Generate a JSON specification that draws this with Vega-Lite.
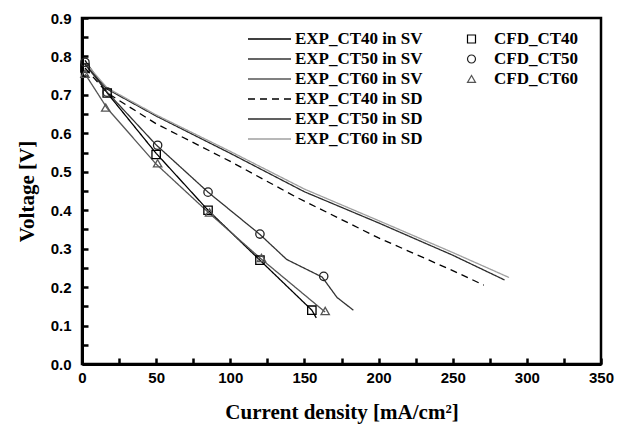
{
  "$schema": "https://vega.github.io/schema/vega-lite/v6.json",
  "width": 519,
  "height": 346,
  "autosize": "none",
  "padding": {"left": 82, "top": 18, "right": 21, "bottom": 68},
  "background": "white",
  "config": {
    "view": {"stroke": "black", "strokeWidth": 2.5},
    "axis": {
      "grid": false,
      "labelFont": "Liberation Sans", "labelFontWeight": "bold", "labelFontSize": 15, "labelColor": "black",
      "titleFont": "Liberation Serif", "titleFontWeight": "bold", "titleFontSize": 21, "titleColor": "black"
    },
    "legend": {
      "labelFont": "Liberation Serif", "labelFontWeight": "bold", "labelFontSize": 17, "labelColor": "black",
      "padding": 0
    }
  },
  "datasets": {
    "exp": [
      {"series": "EXP_CT40 in SV", "x": 2, "y": 0.79},
      {"series": "EXP_CT40 in SV", "x": 17, "y": 0.705},
      {"series": "EXP_CT40 in SV", "x": 50, "y": 0.548},
      {"series": "EXP_CT40 in SV", "x": 85, "y": 0.4},
      {"series": "EXP_CT40 in SV", "x": 120, "y": 0.27},
      {"series": "EXP_CT40 in SV", "x": 155, "y": 0.14},
      {"series": "EXP_CT40 in SV", "x": 158, "y": 0.12},
      {"series": "EXP_CT50 in SV", "x": 2, "y": 0.78},
      {"series": "EXP_CT50 in SV", "x": 17, "y": 0.707},
      {"series": "EXP_CT50 in SV", "x": 50, "y": 0.57},
      {"series": "EXP_CT50 in SV", "x": 85, "y": 0.447},
      {"series": "EXP_CT50 in SV", "x": 120, "y": 0.337},
      {"series": "EXP_CT50 in SV", "x": 138, "y": 0.272},
      {"series": "EXP_CT50 in SV", "x": 162, "y": 0.226},
      {"series": "EXP_CT50 in SV", "x": 172, "y": 0.173},
      {"series": "EXP_CT50 in SV", "x": 183, "y": 0.14},
      {"series": "EXP_CT60 in SV", "x": 2, "y": 0.755},
      {"series": "EXP_CT60 in SV", "x": 17, "y": 0.665},
      {"series": "EXP_CT60 in SV", "x": 50, "y": 0.52},
      {"series": "EXP_CT60 in SV", "x": 85, "y": 0.395},
      {"series": "EXP_CT60 in SV", "x": 120, "y": 0.276},
      {"series": "EXP_CT60 in SV", "x": 164, "y": 0.135},
      {"series": "EXP_CT40 in SD", "x": 2, "y": 0.77},
      {"series": "EXP_CT40 in SD", "x": 17, "y": 0.705},
      {"series": "EXP_CT40 in SD", "x": 50, "y": 0.625},
      {"series": "EXP_CT40 in SD", "x": 100, "y": 0.527},
      {"series": "EXP_CT40 in SD", "x": 145, "y": 0.433},
      {"series": "EXP_CT40 in SD", "x": 200, "y": 0.328},
      {"series": "EXP_CT40 in SD", "x": 250, "y": 0.243},
      {"series": "EXP_CT40 in SD", "x": 271, "y": 0.205},
      {"series": "EXP_CT50 in SD", "x": 2, "y": 0.78},
      {"series": "EXP_CT50 in SD", "x": 17, "y": 0.715},
      {"series": "EXP_CT50 in SD", "x": 50, "y": 0.645},
      {"series": "EXP_CT50 in SD", "x": 100, "y": 0.548},
      {"series": "EXP_CT50 in SD", "x": 150, "y": 0.448},
      {"series": "EXP_CT50 in SD", "x": 200, "y": 0.367},
      {"series": "EXP_CT50 in SD", "x": 250, "y": 0.283},
      {"series": "EXP_CT50 in SD", "x": 285, "y": 0.2185},
      {"series": "EXP_CT60 in SD", "x": 2, "y": 0.785},
      {"series": "EXP_CT60 in SD", "x": 17, "y": 0.718},
      {"series": "EXP_CT60 in SD", "x": 50, "y": 0.648},
      {"series": "EXP_CT60 in SD", "x": 100, "y": 0.553},
      {"series": "EXP_CT60 in SD", "x": 150, "y": 0.455},
      {"series": "EXP_CT60 in SD", "x": 200, "y": 0.373},
      {"series": "EXP_CT60 in SD", "x": 250, "y": 0.29},
      {"series": "EXP_CT60 in SD", "x": 288, "y": 0.225}
    ],
    "cfd": [
      {"cfd": "CFD_CT40", "x": 2, "y": 0.77},
      {"cfd": "CFD_CT40", "x": 17, "y": 0.705},
      {"cfd": "CFD_CT40", "x": 50, "y": 0.545},
      {"cfd": "CFD_CT40", "x": 85, "y": 0.4},
      {"cfd": "CFD_CT40", "x": 120, "y": 0.27},
      {"cfd": "CFD_CT40", "x": 155, "y": 0.14},
      {"cfd": "CFD_CT50", "x": 2, "y": 0.785},
      {"cfd": "CFD_CT50", "x": 17, "y": 0.707},
      {"cfd": "CFD_CT50", "x": 51, "y": 0.569},
      {"cfd": "CFD_CT50", "x": 85, "y": 0.447},
      {"cfd": "CFD_CT50", "x": 120, "y": 0.338},
      {"cfd": "CFD_CT50", "x": 163, "y": 0.228},
      {"cfd": "CFD_CT60", "x": 2, "y": 0.755},
      {"cfd": "CFD_CT60", "x": 16, "y": 0.667},
      {"cfd": "CFD_CT60", "x": 51, "y": 0.522},
      {"cfd": "CFD_CT60", "x": 86, "y": 0.394},
      {"cfd": "CFD_CT60", "x": 121, "y": 0.276},
      {"cfd": "CFD_CT60", "x": 164, "y": 0.138}
    ]
  },
  "encoding": {
    "x": {
      "field": "x", "type": "quantitative",
      "scale": {"domain": [0, 350], "nice": false},
      "axis": {
        "title": "Current density [mA/cm²]",
        "values": [0, 25, 50, 75, 100, 125, 150, 175, 200, 225, 250, 275, 300, 325, 350],
        "labelExpr": "datum.value % 50 == 0 ? datum.label : ''",
        "domainColor": "black", "domainWidth": 3,
        "tickColor": "black", "tickWidth": 2.5, "tickSize": -6,
        "labelPadding": 12, "titlePadding": 16, "labelFlush": false
      }
    },
    "y": {
      "field": "y", "type": "quantitative",
      "scale": {"domain": [0, 0.9], "nice": false, "zero": false},
      "axis": {
        "title": "Voltage [V]",
        "values": [0, 0.05, 0.1, 0.15, 0.2, 0.25, 0.3, 0.35, 0.4, 0.45, 0.5, 0.55, 0.6, 0.65, 0.7, 0.75, 0.8, 0.85, 0.9],
        "labelExpr": "abs(datum.value * 10 - round(datum.value * 10)) < 0.01 ? format(datum.value, '.1f') : ''",
        "domainColor": "black", "domainWidth": 3,
        "tickColor": "black", "tickWidth": 2.5, "tickSize": -6,
        "labelPadding": 17, "titlePadding": 13, "labelFlush": false
      }
    }
  },
  "layer": [
    {
      "data": {"name": "exp"},
      "mark": {"type": "line", "interpolate": "linear"},
      "encoding": {
        "color": {
          "field": "series", "type": "nominal",
          "scale": {
            "domain": ["EXP_CT40 in SV", "EXP_CT50 in SV", "EXP_CT60 in SV", "EXP_CT40 in SD", "EXP_CT50 in SD", "EXP_CT60 in SD"],
            "range": ["#000000", "#333333", "#555555", "#000000", "#2a2a2a", "#a0a0a0"]
          },
          "legend": {
            "title": null, "orient": "none", "legendX": 165, "legendY": 13,
            "symbolType": "stroke", "symbolSize": 1849, "symbolStrokeWidth": 1.5,
            "labelOffset": 3, "rowPadding": 3, "clipHeight": 16
          }
        },
        "strokeDash": {
          "field": "series", "type": "nominal",
          "scale": {
            "domain": ["EXP_CT40 in SV", "EXP_CT50 in SV", "EXP_CT60 in SV", "EXP_CT40 in SD", "EXP_CT50 in SD", "EXP_CT60 in SD"],
            "range": [[1, 0], [1, 0], [1, 0], [7, 5], [1, 0], [1, 0]]
          },
          "legend": {
            "title": null, "orient": "none", "legendX": 165, "legendY": 13,
            "symbolType": "stroke", "symbolSize": 1849, "symbolStrokeWidth": 1.5,
            "labelOffset": 3, "rowPadding": 3, "clipHeight": 16
          }
        },
        "strokeWidth": {
          "field": "series", "type": "ordinal",
          "scale": {
            "domain": ["EXP_CT40 in SV", "EXP_CT50 in SV", "EXP_CT60 in SV", "EXP_CT40 in SD", "EXP_CT50 in SD", "EXP_CT60 in SD"],
            "range": [1.3, 1.3, 1.3, 2.4, 1.4, 1.4]
          },
          "legend": null
        }
      }
    },
    {
      "data": {"name": "cfd"},
      "mark": {"type": "point", "filled": false, "strokeWidth": 1.3, "opacity": 1},
      "encoding": {
        "shape": {
          "field": "cfd", "type": "nominal",
          "scale": {"domain": ["CFD_CT40", "CFD_CT50", "CFD_CT60"], "range": ["square", "circle", "triangle-up"]},
          "legend": {
            "title": null, "orient": "none", "legendX": 381, "legendY": 13,
            "symbolSize": 64, "symbolStrokeWidth": 1.2, "symbolFillColor": "white",
            "labelOffset": 14, "rowPadding": 3, "clipHeight": 16
          }
        },
        "stroke": {
          "field": "cfd", "type": "nominal",
          "scale": {"domain": ["CFD_CT40", "CFD_CT50", "CFD_CT60"], "range": ["#000000", "#222222", "#555555"]},
          "legend": {
            "title": null, "orient": "none", "legendX": 381, "legendY": 13,
            "symbolSize": 64, "symbolStrokeWidth": 1.2, "symbolFillColor": "white",
            "labelOffset": 14, "rowPadding": 3, "clipHeight": 16
          }
        },
        "size": {"value": 70}
      }
    }
  ]
}
